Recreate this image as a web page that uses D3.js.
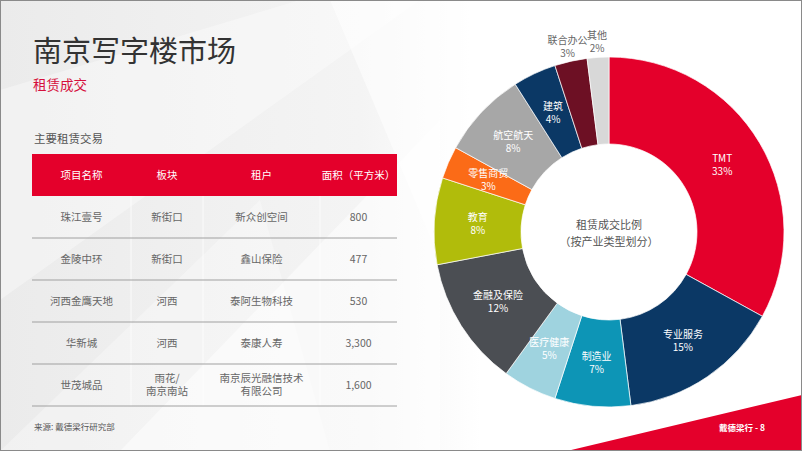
<!DOCTYPE html>
<html>
<head>
<meta charset="utf-8">
<script src="https://cdn.jsdelivr.net/npm/d3@7"></script>
<style>
body { margin: 0; overflow: hidden; background: #fff; }
svg { display: block; font-family: "Noto Sans CJK SC", "Noto Sans", sans-serif; }
</style>
</head>
<body>
<div id="chart"></div>
<script>
var width = 802,
    height = 451;

// répartition par secteur (en %)
var categories = ["TMT", "专业服务", "制造业", "医疗健康", "金融及保险", "教育", "零售商贸", "航空航天", "建筑", "联合办公", "其他"];
var shares = [33, 15, 7, 5, 12, 8, 3, 8, 4, 3, 2];
var sliceColors = ["#e4002b", "#0b3865", "#0d95b6", "#9fd3df", "#4b4e53", "#b1bc0b", "#fb6b17", "#a7a7a7", "#0b3865", "#6d1024", "#d8d8d8"];
var outsideLabels = ["联合办公", "其他"];

// tableau des transactions
var headers = ["项目名称", "板块", "租户", "面积（平方米）"];
var projects = ["珠江壹号", "金陵中环", "河西金鹰天地", "华新城", "世茂城品"];
var districts = ["新街口", "新街口", "河西", "河西", "雨花/\n南京南站"];
var tenants = ["新众创空间", "鑫山保险", "泰阿生物科技", "泰康人寿", "南京辰光融信技术\n有限公司"];
var areas = [800, 477, 530, 3300, 1600];

var svg = d3.select("#chart")
    .append("svg")
    .attr("width", width)
    .attr("height", height);

// fond gris clair + facettes blanches
var defs = svg.append("defs");
var grad = defs.append("linearGradient").attr("id", "bg").attr("x1", 0).attr("x2", 1).attr("y1", 0).attr("y2", 0);
grad.append("stop").attr("offset", "0%").attr("stop-color", "#ebebeb");
grad.append("stop").attr("offset", "45%").attr("stop-color", "#f4f4f4");
grad.append("stop").attr("offset", "60%").attr("stop-color", "#ffffff");

svg.append("rect").attr("width", width).attr("height", height).attr("fill", "url(#bg)");

var facets = [
    [[0, 90], [300, 0], [420, 0], [0, 300]],
    [[120, 451], [440, 120], [440, 451]],
    [[0, 451], [260, 200], [330, 451]],
    [[330, 0], [560, 0], [440, 260]]
];
svg.append("g").selectAll("polygon")
    .data(facets)
    .join("polygon")
    .attr("points", function(d) { return d.join(" "); })
    .attr("fill", "#ffffff")
    .attr("opacity", function(d, i) { return [0.35, 0.5, 0.3, 0.55][i]; });

// bandeau rouge en bas à droite
svg.append("polygon")
    .attr("points", [[567, 451], [802, 395], [802, 451]].join(" "))
    .attr("fill", "#e4002b");

svg.append("text")
    .attr("x", 765).attr("y", 431)
    .attr("text-anchor", "end")
    .attr("font-size", 8.5).attr("font-weight", "bold")
    .attr("fill", "#fff")
    .text("戴德梁行 - 8");

// titres
svg.append("text")
    .attr("x", 33).attr("y", 62)
    .attr("font-size", 29)
    .attr("fill", "#333")
    .text("南京写字楼市场");

svg.append("text")
    .attr("x", 33).attr("y", 90)
    .attr("font-size", 13.5)
    .attr("fill", "#d6103c")
    .text("租赁成交");

svg.append("text")
    .attr("x", 34).attr("y", 143)
    .attr("font-size", 11.5)
    .attr("fill", "#555")
    .text("主要租赁交易");

// ---- tableau ----
var colEdges = [32, 131, 203, 320, 397];
var colCenters = headers.map(function(h, i) { return (colEdges[i] + colEdges[i + 1]) / 2; });

var y = d3.scaleBand()
    .domain(d3.range(projects.length + 1))
    .range([154, 406]);

var table = svg.append("g");

table.append("rect")
    .attr("x", colEdges[0]).attr("y", y(0))
    .attr("width", colEdges[4] - colEdges[0]).attr("height", y.bandwidth())
    .attr("fill", "#e4002b");

table.selectAll(".head")
    .data(headers)
    .join("text")
    .attr("class", "head")
    .attr("x", function(d, i) { return colCenters[i]; })
    .attr("y", y(0) + y.bandwidth() / 2)
    .attr("dy", "0.35em")
    .attr("text-anchor", "middle")
    .attr("font-size", 10.5)
    .attr("fill", "#fff")
    .text(function(d) { return d; });

// séparateurs verticaux très légers
table.selectAll(".vline")
    .data(colEdges.slice(1, 4))
    .join("line")
    .attr("class", "vline")
    .attr("x1", function(d) { return d; }).attr("x2", function(d) { return d; })
    .attr("y1", y(1)).attr("y2", y(projects.length) + y.bandwidth())
    .attr("stroke", "#ffffff").attr("stroke-width", 1).attr("opacity", 0.8);

// lignes horizontales sous chaque ligne
table.selectAll(".hline")
    .data(d3.range(1, projects.length + 1))
    .join("line")
    .attr("class", "hline")
    .attr("x1", colEdges[0]).attr("x2", colEdges[4])
    .attr("y1", function(d) { return y(d) + y.bandwidth(); })
    .attr("y2", function(d) { return y(d) + y.bandwidth(); })
    .attr("stroke", "#a0a0a0").attr("stroke-width", 1);

var rows = projects.map(function(p, i) {
    return [p, districts[i], tenants[i], d3.format(",")(areas[i])];
});

// une ligne de texte = un élément text (sinon les boîtes se chevauchent)
rows.forEach(function(row, r) {
    row.forEach(function(cell, c) {
        var lines = cell.split("\n");
        lines.forEach(function(l, k) {
            table.append("text")
                .attr("x", colCenters[c])
                .attr("y", y(r + 1) + y.bandwidth() / 2 + (k - (lines.length - 1) / 2) * 13)
                .attr("dy", "0.35em")
                .attr("text-anchor", "middle")
                .attr("font-size", 10.5)
                .attr("fill", "#666")
                .text(l);
        });
    });
});

svg.append("text")
    .attr("x", 34).attr("y", 430)
    .attr("font-size", 8.5)
    .attr("fill", "#555")
    .text("来源: 戴德梁行研究部");

// ---- donut ----
var cx = 609, cy = 232;
var outerR = 175, innerR = 88;

var pie = d3.pie().sort(null).value(function(d) { return d; });
var arcs = pie(shares);

var arc = d3.arc().innerRadius(innerR).outerRadius(outerR);
var outArc = d3.arc().innerRadius(190).outerRadius(190);

var donut = svg.append("g").attr("transform", "translate(" + cx + "," + cy + ")");

donut.selectAll("path")
    .data(arcs)
    .join("path")
    .attr("d", arc)
    .attr("fill", function(d, i) { return sliceColors[i]; })
    .attr("stroke", "#ffffff")
    .attr("stroke-width", 0.7);

arcs.forEach(function(d, i) {
    var outside = outsideLabels.indexOf(categories[i]) >= 0;
    var p = outside ? outArc.centroid(d) : arc.centroid(d);
    [categories[i], shares[i] + "%"].forEach(function(txt, k) {
        donut.append("text")
            .attr("x", p[0])
            .attr("y", p[1] + (k === 0 ? -6.5 : 6.5))
            .attr("dy", "0.35em")
            .attr("text-anchor", "middle")
            .attr("font-size", 10)
            .attr("fill", outside ? "#666" : "#fff")
            .text(txt);
    });
});

donut.append("text")
    .attr("text-anchor", "middle")
    .attr("y", -7).attr("dy", "0.35em")
    .attr("font-size", 11)
    .attr("fill", "#555")
    .text("租赁成交比例");

donut.append("text")
    .attr("text-anchor", "middle")
    .attr("y", 10).attr("dy", "0.35em")
    .attr("font-size", 11)
    .attr("fill", "#555")
    .text("（按产业类型划分）");

// cadre gris
svg.append("rect")
    .attr("x", 0.5).attr("y", 0.5)
    .attr("width", width - 1).attr("height", height - 1)
    .attr("fill", "none")
    .attr("stroke", "#8a8a8a");
</script>
</body>
</html>
